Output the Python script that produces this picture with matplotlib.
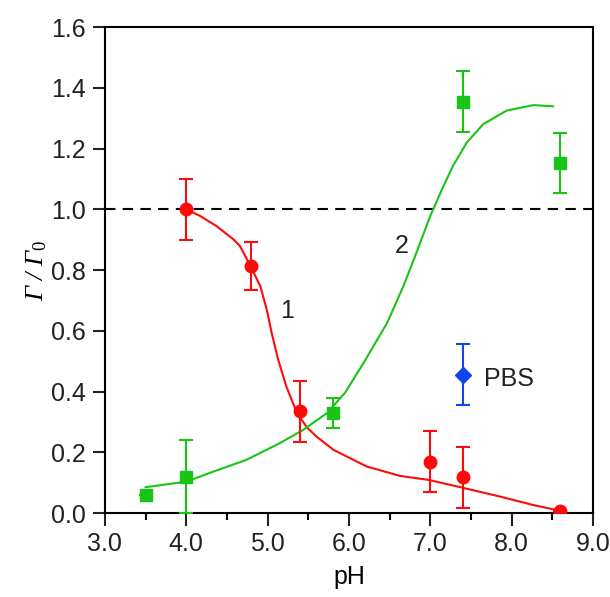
import matplotlib
matplotlib.use('Agg')
import matplotlib.pyplot as plt
from matplotlib.ticker import MultipleLocator, FormatStrFormatter

plt.rcParams['font.family'] = ['Liberation Sans', 'DejaVu Sans']
plt.rcParams['mathtext.fontset'] = 'custom'
plt.rcParams['mathtext.it'] = 'Liberation Serif:italic'
plt.rcParams['mathtext.rm'] = 'Liberation Serif'

# measured points (curve 1, red circles)
red_x = [4.0, 4.8, 5.4, 7.0, 7.4, 8.6]
red_y = [1.0, 0.813, 0.335, 0.169, 0.117, 0.005]
red_err = [0.1, 0.08, 0.1, 0.1, 0.1, 0.0]

# measured points (curve 2, green squares)
green_x = [3.5, 4.0, 5.8, 7.4, 8.6]
green_y = [0.059, 0.12, 0.329, 1.354, 1.152]
green_err = [0.0, 0.12, 0.05, 0.1, 0.1]

# PBS point
pbs_x = [7.4]
pbs_y = [0.455]
pbs_err = [0.1]

# fitted curves
red_fit_x = [4.0, 4.17, 4.37, 4.58, 4.66, 4.79, 4.91, 4.99, 5.05, 5.13, 5.23,
             5.36, 5.48, 5.60, 5.81, 6.22, 6.63, 6.98, 7.37, 7.86, 8.27, 8.55, 8.6]
red_fit_y = [1.0, 0.978, 0.945, 0.901, 0.879, 0.813, 0.747, 0.670, 0.593, 0.505, 0.417,
             0.330, 0.283, 0.252, 0.208, 0.153, 0.122, 0.109, 0.085, 0.054, 0.026, 0.010, 0.005]

green_fit_x = [3.5, 4.0, 4.33, 4.74, 5.15, 5.44, 5.73, 5.95, 6.18, 6.47, 6.67, 6.83,
               7.0, 7.16, 7.28, 7.45, 7.65, 7.94, 8.27, 8.51]
green_fit_y = [0.085, 0.103, 0.136, 0.175, 0.23, 0.274, 0.329, 0.395, 0.494, 0.626, 0.747, 0.857,
               0.978, 1.075, 1.143, 1.22, 1.28, 1.325, 1.343, 1.339]

RED = '#ff0a0a'
GREEN = '#19c419'
BLUE = '#1144ee'
FS = 18

fig = plt.figure(figsize=(6.1, 5.97), dpi=100)
ax = fig.add_axes([0.172, 0.1407, 0.8, 0.814])

ax.axhline(1.0, color='black', lw=1.5, ls=(0, (5, 3.5)), zorder=1)

ax.plot(red_fit_x, red_fit_y, color=RED, lw=1.5, zorder=2)
ax.plot(green_fit_x, green_fit_y, color=GREEN, lw=1.5, zorder=2)

ax.errorbar(red_x, red_y, yerr=red_err, fmt='o', color=RED, ms=9, lw=1.5,
            capsize=5, capthick=1.5, zorder=3)
ax.errorbar(green_x, green_y, yerr=green_err, fmt='s', color=GREEN, ms=8, lw=1.5,
            capsize=5, capthick=1.5, zorder=3)
ax.errorbar(pbs_x, pbs_y, yerr=pbs_err, fmt='D', color=BLUE, ms=8, lw=1.5,
            capsize=5, capthick=1.5, zorder=3)

ax.text(5.24, 0.665, '1', fontsize=FS, ha='center', va='center', color='#222222')
ax.text(6.65, 0.88, '2', fontsize=FS, ha='center', va='center', color='#222222')
ax.text(7.66, 0.44, 'PBS', fontsize=FS, ha='left', va='center', color='#222222')

ax.set_xlim(3.0, 9.0)
ax.set_ylim(0.0, 1.6)
ax.xaxis.set_major_locator(MultipleLocator(1.0))
ax.xaxis.set_minor_locator(MultipleLocator(0.5))
ax.yaxis.set_major_locator(MultipleLocator(0.2))
ax.xaxis.set_major_formatter(FormatStrFormatter('%.1f'))
ax.yaxis.set_major_formatter(FormatStrFormatter('%.1f'))

ax.tick_params(axis='both', which='major', direction='out', length=9, width=1.5,
               labelsize=FS, colors='#222222', pad=5)
ax.tick_params(axis='x', which='minor', direction='out', length=5, width=1.5)
for s in ax.spines.values():
    s.set_linewidth(1.5)

ax.set_xlabel('pH', fontsize=FS, labelpad=6)
ax.set_ylabel(r'Γ / Γ$_{\mathrm{0}}$', fontsize=19, labelpad=1,
              family='Liberation Serif', style='italic')

fig.savefig('out.png', dpi=100)
